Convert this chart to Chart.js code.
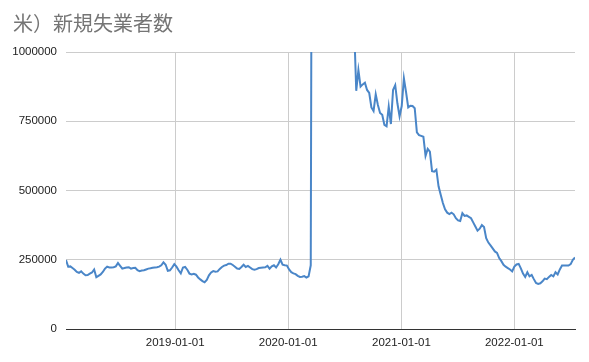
<!DOCTYPE html>
<html>
<head>
<meta charset="utf-8">
<script src="https://cdn.jsdelivr.net/npm/chart.js@4.4.1/dist/chart.umd.min.js"></script>
<style>
  body { margin: 0; background: #fff; }
  #wrap { position: relative; width: 589px; height: 362px; }
  #title {
    position: absolute; left: 13px; top: 13px;
    font: 20px/20px "Noto Sans CJK JP", "Noto Sans", sans-serif;
    color: #757575; white-space: nowrap;
  }
</style>
</head>
<body>
<div id="wrap">
  <canvas id="claimsChart" width="589" height="362"></canvas>
  <div id="title">米）新規失業者数</div>
</div>
<script>
// weekly series, first week ending 2018-01-13
const startDate = '2018-01-13';
// initial claims, thousands (2020 spring peak is off-scale)
const claimsK = [
  249, 225, 226, 220, 214, 206, 203, 208, 200, 194,
  195, 200, 204, 215, 187, 192, 197, 206, 218, 225,
  222, 222, 223, 226, 238, 228, 218, 220, 222, 223,
  218, 220, 221, 212, 209, 211, 212, 215, 218, 219,
  221, 222, 223, 225, 230, 241, 232, 210, 212, 222,
  234, 225, 212, 201, 222, 224, 214, 200, 197, 199,
  196, 186, 179, 173, 169, 177, 194, 204, 209, 207,
  208, 217, 224, 229, 231, 236, 236, 231, 225, 218,
  217, 224, 232, 224, 228, 222, 216, 214, 216, 220,
  221, 222, 223, 228, 218, 226, 230, 222, 234, 250,
  232, 230, 229, 215, 205, 201, 198, 192, 188, 189,
  191, 186, 190, 230,
  3307, 6867, 6615, 5237, 4442, 3867, 3176, 2687, 2446, 2126,
  1897, 1566, 1540, 1482, 1413, 1310, 1422, 1435, 1187, 1100,
  860, 935, 875, 883, 889, 863, 852, 800, 787, 847,
  809, 780, 773, 737, 732, 803, 740, 863, 880, 815,
  768, 805, 905, 855, 800, 806, 805, 797, 710, 700,
  697, 694, 625, 650, 640, 570, 568, 575, 515, 485,
  455, 432, 420, 415, 420, 414, 400, 392, 390, 418,
  408, 410, 405, 400, 385, 370, 355, 362, 375, 368,
  328, 312, 302, 291, 280, 275, 256, 245, 232, 225,
  220, 215, 208, 225, 233, 235, 219, 200, 188, 205,
  190, 195, 180, 166, 163, 165, 172, 182, 180, 188,
  195, 190, 205, 197, 215, 229, 229, 229, 229, 234,
  250, 258
];
const xTickDates = ['2019-01-01', '2020-01-01', '2021-01-01', '2022-01-01'];
const yTicks = [0, 250000, 500000, 750000, 1000000];

const DAY = 86400000;
const dayNum = (s) => Date.parse(s + 'T00:00:00Z') / DAY;
const fmtDay = (d) => new Date(d * DAY).toISOString().slice(0, 10);

const start = dayNum(startDate);
const points = claimsK.map((v, i) => ({ x: start + 7 * i, y: v * 1000 }));

const tickFont = { family: '"Liberation Sans", Arial, sans-serif', size: 11.5 };

new Chart(document.getElementById('claimsChart'), {
  type: 'line',
  data: {
    datasets: [{
      data: points,
      borderColor: '#4a86c8',
      borderWidth: 2,
      pointRadius: 0,
      tension: 0,
      fill: false
    }]
  },
  options: {
    responsive: false,
    animation: false,
    devicePixelRatio: 1,
    layout: { padding: { top: 52, right: 14, left: 0, bottom: 0 } },
    plugins: {
      legend: { display: false },
      tooltip: { enabled: false }
    },
    scales: {
      x: {
        type: 'linear',
        min: points[0].x,
        max: points[points.length - 1].x,
        afterBuildTicks: (scale) => {
          scale.ticks = xTickDates.map(d => ({ value: dayNum(d) }));
        },
        afterFit: (scale) => { scale.height = 33; },
        grid: { color: '#cccccc', drawTicks: false },
        border: { display: true, color: '#333333', width: 1 },
        ticks: {
          color: '#222222',
          font: tickFont,
          padding: 7,
          maxRotation: 0,
          callback: (v) => fmtDay(v)
        }
      },
      y: {
        min: 0,
        max: 1000000,
        afterBuildTicks: (scale) => {
          scale.ticks = yTicks.map(v => ({ value: v }));
        },
        afterFit: (scale) => { scale.width = 66; },
        grid: { color: '#cccccc', drawTicks: false },
        border: { display: false },
        ticks: {
          color: '#222222',
          font: tickFont,
          padding: 9,
          callback: (v) => String(v)
        }
      }
    }
  }
});
</script>
</body>
</html>
